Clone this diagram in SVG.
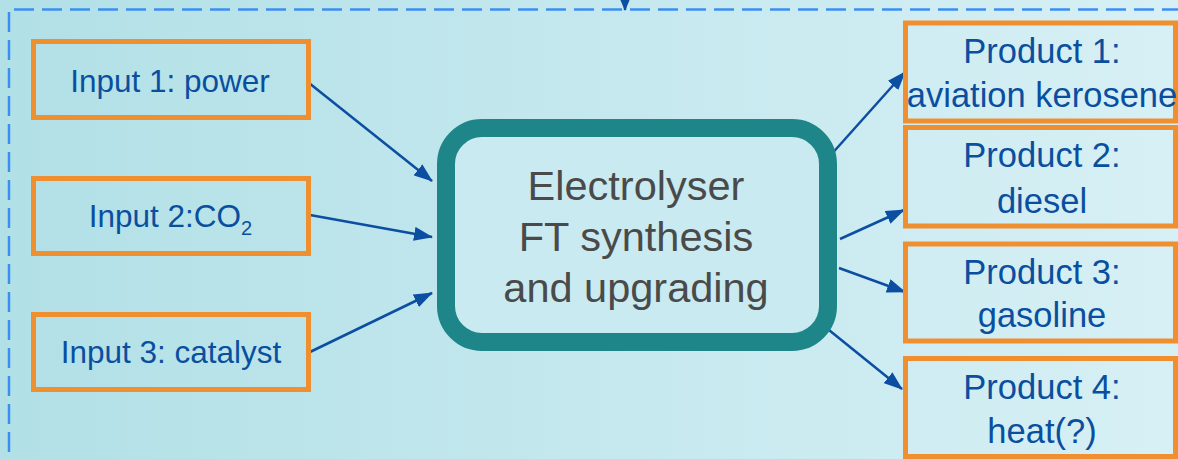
<svg xmlns="http://www.w3.org/2000/svg" width="1178" height="459" viewBox="0 0 1178 459">
<defs>
<linearGradient id="bg" x1="0" y1="0" x2="1" y2="0">
<stop offset="0" stop-color="#b1e0e6"/>
<stop offset="0.5" stop-color="#c4e8ee"/>
<stop offset="1" stop-color="#d7f0f5"/>
</linearGradient>
<marker id="ah" markerUnits="userSpaceOnUse" markerWidth="19" markerHeight="14" refX="18" refY="7" orient="auto">
<path d="M0,0 L19,7 L0,14 z" fill="#0b4ea2"/>
</marker>
<marker id="ahs" markerUnits="userSpaceOnUse" markerWidth="12" markerHeight="10" refX="11" refY="5" orient="auto">
<path d="M0,0 L12,5 L0,10 z" fill="#0b4ea2"/>
</marker>
</defs>
<style>
.box{fill:none;stroke:#ef8f30;stroke-width:5}
.lbl{font-family:"Liberation Sans",Arial,sans-serif;fill:#0a4f9f;text-anchor:middle}
.in{font-size:31.5px}
.pr{font-size:34.5px}
.ctr{font-family:"Liberation Sans",Arial,sans-serif;fill:#4a4a4a;text-anchor:middle;font-size:41.5px}
.dash{fill:none;stroke:#3d8ef2;stroke-width:2.5;stroke-dasharray:20 8}
.conn{fill:none;stroke:#0b4ea2;stroke-width:2.5;marker-end:url(#ah)}
</style>
<rect x="0" y="0" width="1178" height="459" fill="url(#bg)"/>
<g id="boundary">
<path class="dash" d="M9,12 V459"/>
<path class="dash" d="M14,9.5 H1178"/>
</g>
<g id="connectors">
<path d="M625,-20 V10" fill="none" stroke="#0b4ea2" stroke-width="2.5" marker-end="url(#ahs)"/>
<path class="conn" d="M309,83 L432,181"/>
<path class="conn" d="M310,215 L432,237"/>
<path class="conn" d="M310,352 L432,293"/>
<path class="conn" d="M829,157 L905,72"/>
<path class="conn" d="M840,239 L904,210"/>
<path class="conn" d="M839,268 L905,292"/>
<path class="conn" d="M824,326 L902,389"/>
</g>
<g id="input1">
<rect class="box" x="33.5" y="41.5" width="275" height="76"/>
<text class="lbl in" x="170" y="91.5">Input 1: power</text>
</g>
<g id="input2">
<rect class="box" x="33.5" y="178.5" width="275" height="75"/>
<text class="lbl in" x="170.5" y="227">Input 2:CO<tspan font-size="20" dy="8">2</tspan></text>
</g>
<g id="input3">
<rect class="box" x="33.5" y="314.5" width="275" height="75"/>
<text class="lbl in" x="171" y="363">Input 3: catalyst</text>
</g>
<g id="process">
<rect x="446" y="128" width="382" height="214" rx="36" ry="36" fill="#c9eaf0" stroke="#1e8688" stroke-width="18"/>
<text class="ctr" x="636" y="200">Electrolyser</text>
<text class="ctr" x="636" y="251">FT synthesis</text>
<text class="ctr" x="636" y="302">and upgrading</text>
</g>
<g id="product1">
<rect class="box" x="905.5" y="23" width="270" height="98"/>
<text class="lbl pr" x="1042" y="63">Product 1:</text>
<text class="lbl pr" x="1042" y="106.5">aviation kerosene</text>
</g>
<g id="product2">
<rect class="box" x="905.5" y="127.5" width="270" height="98.5"/>
<text class="lbl pr" x="1042" y="167">Product 2:</text>
<text class="lbl pr" x="1042" y="213">diesel</text>
</g>
<g id="product3">
<rect class="box" x="905.5" y="244" width="270" height="97"/>
<text class="lbl pr" x="1042" y="283.5">Product 3:</text>
<text class="lbl pr" x="1042" y="326.5">gasoline</text>
</g>
<g id="product4">
<rect class="box" x="905.5" y="358.5" width="270" height="98"/>
<text class="lbl pr" x="1042" y="398.5">Product 4:</text>
<text class="lbl pr" x="1042" y="443">heat(?)</text>
</g>
</svg>
